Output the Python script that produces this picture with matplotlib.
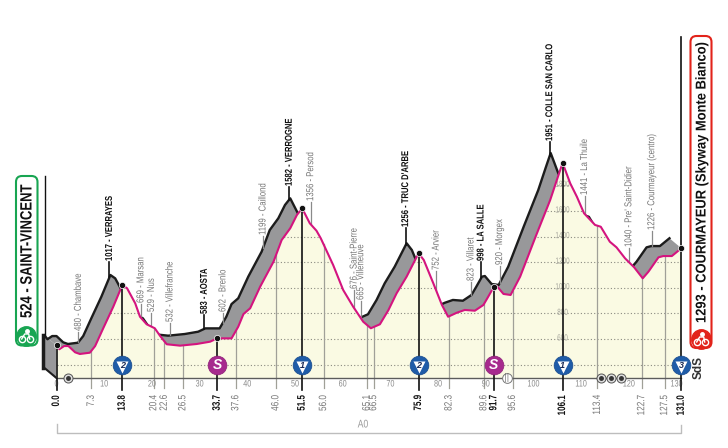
import numpy as np
import matplotlib
matplotlib.use('Agg')
import matplotlib.pyplot as plt
import matplotlib.patheffects as pe
from matplotlib.patches import Polygon, FancyBboxPatch
from matplotlib.transforms import Affine2D, blended_transform_factory

FONT = ['Liberation Sans', 'DejaVu Sans']

# road profile, km and metres
profile_km = [0.0, 0.6, 1.6, 2.5, 3.9, 4.9, 7.0, 8.1, 9.8, 11.9, 13.8, 14.8, 16.5, 17.5, 18.9, 20.6, 21.7,
              23.1, 25.9, 29.4, 32.2, 33.7, 36.7, 38.1, 39.2, 40.6, 42.7, 45.5, 47.2, 49.0, 50.4, 51.5,
              53.1, 54.5, 55.4, 58.0, 60.1, 62.2, 64.3, 65.9, 67.8, 69.6, 71.3, 73.4, 75.9, 77.0, 79.0,
              80.8, 82.1, 83.9, 85.6, 87.7, 89.5, 90.5, 91.7, 92.3, 93.7, 95.2, 97.2, 100.5, 103.5, 105.1,
              106.1, 107.7, 109.1, 110.6, 112.9, 114.1, 116.0, 117.4, 119.2, 121.1, 122.9, 124.1, 126.2,
              127.2, 129.0, 131.0]
profile_elev = [550, 520, 545, 545, 496, 483, 493, 545, 684, 852, 1022, 996, 879, 774, 715, 684, 625,
                559, 548, 561, 579, 605, 605, 696, 795, 840, 1009, 1204, 1373, 1465, 1569, 1621,
                1504, 1446, 1387, 1178, 983, 852, 735, 684, 715, 827, 957, 1087, 1270, 1217, 1035,
                866, 774, 805, 827, 821, 866, 930, 1009, 1014, 952, 944, 1087, 1405, 1686, 1865,
                1975, 1816, 1711, 1582, 1491, 1477, 1360, 1316, 1230, 1160, 1074, 1126, 1238,
                1248, 1248, 1309]

grid_elev = [400, 600, 800, 1000, 1200, 1400, 1600, 1800]
scale_elev = [600, 800, 1000, 1200, 1400, 1600, 1800]
axis_km = list(range(0, 131, 10))

# black ticks (climbs, sprints, start, finish) and grey ones
major_km = [0.0, 13.8, 33.7, 51.5, 75.9, 91.7, 106.1, 131.0]
minor_km = [7.3, 20.4, 22.6, 26.5, 37.6, 46.0, 56.0, 65.1, 66.5, 82.3, 89.6, 95.6, 113.4, 122.7, 127.5]

place_km = [7.3, 13.8, 20.4, 22.6, 26.5, 33.7, 37.6, 46.0, 51.5, 56.0, 65.1, 66.5, 75.9, 82.3, 89.6,
            91.7, 95.6, 106.1, 113.4, 122.7, 127.5]
place_names = ['480 - Chambave', '1017 - VERRAYES', '669 - Marsan', '529 - Nus', '532 - Villefranche',
               '583 - AOSTA', '602 - Brenlo', '1199 - Caillond', '1582 - VERROGNE', '1356 - Persod',
               '676 - Saint-Pierre', '665 - Villeneuve', "1256 - TRUC D'ARBE", '752 - Arvier',
               '823 - Villaret', '998 - LA SALLE', '920 - Morgex', '1951 - COLLE SAN CARLO',
               '1441 - La Thuile', "1040 - Pre' Saint-Didier", '1226 - Courmayeur (centro)']

climb_km = [13.8, 51.5, 75.9, 106.1, 131.0]
climb_cat = ['2', '1', '2', '1', '3']
sprint_km = [33.7, 91.7]
feed_km = [2.5, 114.2, 116.2, 118.3]

start_label = '524 - SAINT-VINCENT'
finish_label = '1293 - COURMAYEUR (Skyway Monte Bianco)'

# layout, picture pixels
label_bottom = [332, 262, 304, 313, 323, 315, 313, 236, 187, 202, 290, 301, 228, 271, 282, 262, 266,
                142, 196, 248, 231]
BACK_KM = 2.5
BACK_ELEV = 78
LABEL_KM = 2.7
TEXT_NUDGE = 0.2
BASE_ELEV = 295


class Tall(pe.AbstractPathEffect):
    # no narrow font here, so use a smaller size and stretch the glyphs upward
    def __init__(self, factor):
        super().__init__()
        self.factor = factor

    def draw_path(self, renderer, gc, tpath, affine, rgbFace=None):
        renderer.draw_path(gc, tpath, Affine2D().scale(1, self.factor) + affine, rgbFace)


def px_elev(y):
    return 600 + (339 - y) / 0.128


def label(ax, x, y, s, size, color, tall=1.3, bold=False, **kw):
    t = ax.text(x, y, s, fontsize=size, color=color, family=FONT, fontweight='bold' if bold else 'normal', **kw)
    t.set_path_effects([Tall(tall)])
    return t


def bike(ax, x, y, color):
    ax.plot([x - 4, x + 4], [y + 3, y + 3], ls='none', marker='o', ms=4.5, mfc=color, mec='white', mew=1, zorder=12)
    ax.plot([x - 4, x - 1, x + 3, x + 4], [y + 3, y - 2, y - 2, y + 3], color='white', lw=1, zorder=12)
    ax.plot([x + 1], [y - 5], ls='none', marker='o', ms=2.5, color='white', zorder=12)


def main():
    fig = plt.figure(figsize=(7.28, 4.48), dpi=100)
    ax = fig.add_axes([0, 0, 1, 1])
    ax.set_xlim((0 - 56.5) / 4.77, (728 - 56.5) / 4.77)
    ax.set_ylim(px_elev(448), px_elev(0))
    ax.axis('off')
    deco = fig.add_axes([0, 0, 1, 1], facecolor='none')
    deco.set_xlim(0, 728)
    deco.set_ylim(448, 0)
    deco.axis('off')
    km_px = blended_transform_factory(ax.transData, deco.transData)

    km = np.array(profile_km)
    elev = np.array(profile_elev)
    back_km = km - BACK_KM
    back_elev = elev + BACK_ELEV

    # back of the ribbon and the start wall
    band = np.column_stack([np.r_[back_km, km[::-1]], np.r_[back_elev, elev[::-1]]])
    ax.add_patch(Polygon(band, fc='#98989a', ec='none', zorder=2))
    wall = [(0, elev[0]), (0, BASE_ELEV), (-BACK_KM, BASE_ELEV + BACK_ELEV), (-BACK_KM, elev[0] + BACK_ELEV)]
    ax.add_patch(Polygon(wall, fc='#98989a', ec='none', zorder=2))
    ax.plot(back_km, back_elev, color='#1c1c1c', lw=1.7, zorder=3, solid_joinstyle='round')
    ax.plot([-BACK_KM, 0], [BASE_ELEV + BACK_ELEV, BASE_ELEV], color='#1c1c1c', lw=1.5, zorder=3)
    ax.plot([-BACK_KM - 0.3] * 2, [BASE_ELEV + BACK_ELEV, elev[0] + BACK_ELEV], color='#1c1c1c', lw=2.5, zorder=3)

    # front face
    face_pts = np.column_stack([np.r_[km, km[-1], km[0]], np.r_[elev, BASE_ELEV, BASE_ELEV]])
    face = Polygon(face_pts, fc='#fafae3', ec='none', zorder=4)
    ax.add_patch(face)

    for e in grid_elev:
        line, = ax.plot([0, 131], [e, e], color='#8a8a80', lw=0.8, ls=(0, (1, 2)), zorder=5)
        line.set_clip_path(face)

    for k in minor_km:
        ax.plot([k, k], [BASE_ELEV - 80, np.interp(k, km, elev)], color='#a0a098', lw=0.9, zorder=5)

    for e in scale_elev:
        label(ax, 106.1, e, str(e), 4.6, '#a5a59c', tall=1.4, ha='center', va='center', zorder=5)

    ax.plot(km, elev, color='#d4147f', lw=1.5, zorder=7, solid_joinstyle='round')

    # baseline and km scale
    ax.plot([0, 131], [BASE_ELEV, BASE_ELEV], color='#5c5c5c', lw=1, zorder=6)
    for k in axis_km:
        label(ax, k, 385, str(k), 5.2, '#8a8a8a', transform=km_px, ha='center', va='center', zorder=6)

    # tick labels under the axis
    for k in minor_km:
        label(ax, k + TEXT_NUDGE, 395, f'{k:.1f}', 5.9, '#777777', transform=km_px, rotation=90, ha='center', va='top')
    for k in major_km:
        label(ax, k + TEXT_NUDGE, 395, f'{k:.1f}', 5.8, '#111111', tall=1.35, bold=True, transform=km_px, rotation=90,
              ha='center', va='top')

    # place names above the ribbon
    for k, name, bottom in zip(place_km, place_names, label_bottom):
        bold = name.split(' - ')[1].isupper()
        x = k - LABEL_KM
        top_elev = np.interp(x, back_km, back_elev)
        ax.plot([x, x], [top_elev, px_elev(bottom)], color='#111111' if bold else '#8a8a8a',
                lw=1.2 if bold else 0.9, zorder=3)
        label(ax, x + TEXT_NUDGE, bottom - 1, name, 5.5 if bold else 5.6, '#111111' if bold else '#777777', bold=bold,
              transform=km_px, rotation=90, ha='center', va='bottom')

    # climb and sprint markers with badges
    for k in major_km:
        top = px_elev(37) if k == 131.0 else np.interp(k, km, elev)
        ax.plot([k, k], [BASE_ELEV - 95, top], color='#111111', lw=1.2, zorder=8)
        ax.plot([k], [np.interp(k, km, elev)], ls='none', marker='o', ms=4.5, mfc='#111111', mec='white',
                mew=0.5, zorder=9)
    ax.plot([-BACK_KM, -BACK_KM], [elev[0] + BACK_ELEV, px_elev(176)], color='#111111', lw=1, zorder=3)

    for k, cat in zip(climb_km, climb_cat):
        ax.plot([k], [px_elev(365.3)], ls='none', marker='o', ms=13.5, mfc='#1f5ca8', mec='#174a8c', mew=0.5, zorder=10)
        ax.plot([k], [px_elev(367)], ls='none', marker='v', ms=8.6, mfc='white', mec='none', zorder=11)
        ax.text(k, 365.5, cat, transform=km_px, color='#1a2a55', fontsize=6.5, fontweight='bold', fontstyle='italic',
                family=FONT, ha='center', va='center', zorder=12)
    for k in sprint_km:
        ax.plot([k], [px_elev(365.3)], ls='none', marker='o', ms=13.5, mfc='#a72a8e', mec='#8d1f76', mew=0.5, zorder=10)
        ax.text(k, 365.3, 'S', transform=km_px, color='white', fontsize=10, fontweight='bold', fontstyle='italic',
                family=FONT, ha='center', va='center', zorder=12)

    # feed and sign rings on the baseline
    for k in feed_km:
        ax.plot([k], [BASE_ELEV], ls='none', marker='o', ms=6.5, mfc='#dddddd', mec='#555555', mew=0.7, zorder=9)
        ax.plot([k], [BASE_ELEV], ls='none', marker='o', ms=2.5, color='#333333', zorder=10)
    ax.plot([94.4], [BASE_ELEV], ls='none', marker='o', ms=7, mfc='white', mec='#777777', mew=0.7, zorder=9)
    ax.text(94.4, 378, '||', transform=km_px, color='#666666', fontsize=5.5, ha='center', va='center', zorder=10)

    # start and finish boxes
    deco.add_patch(FancyBboxPatch((16, 176), 21.5, 169.5, boxstyle='round,pad=0,rounding_size=6',
                                  fc='white', ec='#18a552', lw=1.5, zorder=10))
    deco.plot([25.7], [336], ls='none', marker='o', ms=14, color='#18a552', zorder=11)
    bike(deco, 25.7, 336, '#18a552')
    label(deco, 28.5, 318, start_label, 9.4, '#111111', tall=1.25, bold=True, rotation=90,
          ha='center', va='bottom', zorder=11)

    deco.add_patch(FancyBboxPatch((690.5, 36), 21, 312, boxstyle='round,pad=0,rounding_size=6',
                                  fc='white', ec='#e2231a', lw=1.5, zorder=10))
    deco.plot([700.7], [339], ls='none', marker='o', ms=14, color='#e2231a', zorder=11)
    bike(deco, 700.7, 339, '#e2231a')
    label(deco, 702.5, 323, finish_label, 9.3, '#111111', tall=1.1, bold=True, rotation=90,
          ha='center', va='bottom', zorder=11)

    deco.text(699, 367.5, 'SdS', rotation=90, fontsize=8.5, fontweight='bold', family=FONT,
              color='#333333', ha='center', va='center')

    # autostrada bracket
    ax.plot([0, 0, 131, 131], [px_elev(424), px_elev(433), px_elev(433), px_elev(425)], color='#bdbdbd', lw=1)
    label(deco, 363, 425, 'A0', 6.2, '#9a9a9a', ha='center', va='center')

    fig.savefig('out.png', dpi=100)


if __name__ == '__main__':
    main()
